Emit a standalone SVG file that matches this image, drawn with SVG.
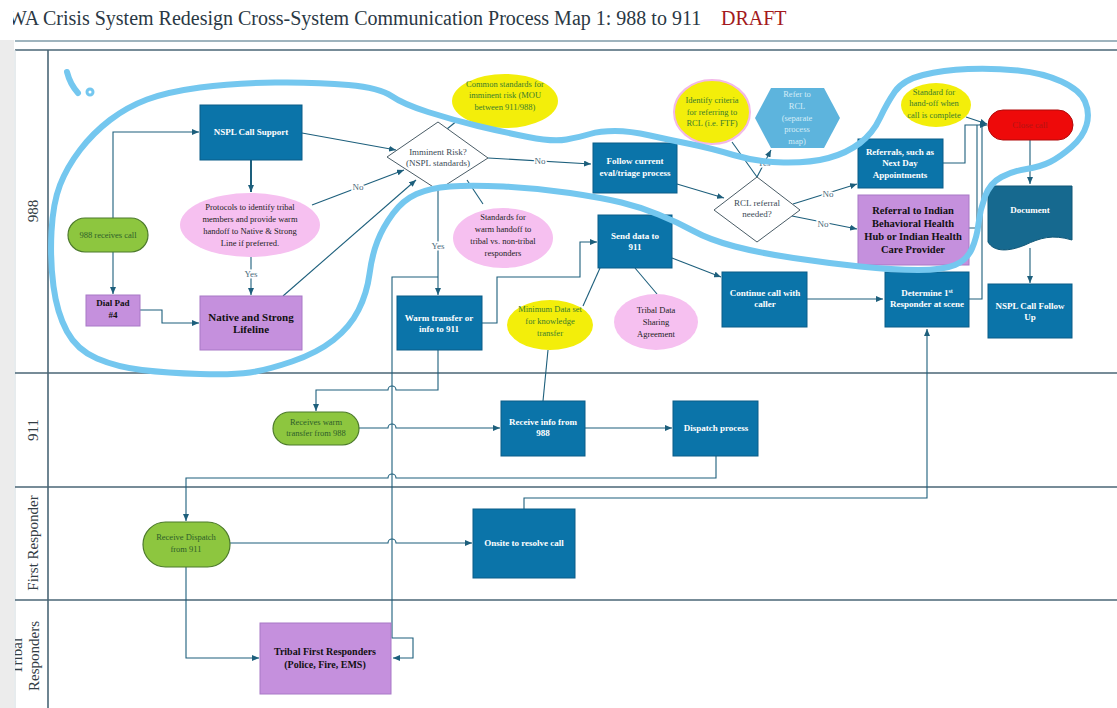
<svg xmlns="http://www.w3.org/2000/svg" width="1117" height="708" viewBox="0 0 1117 708">
<defs>
<marker id="ah" markerWidth="7" markerHeight="6" refX="7" refY="3" orient="auto" markerUnits="userSpaceOnUse"><path d="M0,0 L7,3 L0,6 z" fill="#1d5f7c"/></marker>
<clipPath id="clipL"><rect x="15" y="0" width="1102" height="708"/></clipPath>
<clipPath id="clipT"><rect x="13" y="0" width="1104" height="40"/></clipPath>
</defs>
<style>
text{font-family:"Liberation Serif","Times New Roman",serif;text-anchor:middle}
.proc{fill:#0b74a9;stroke:#0a5d88;stroke-width:1}
.pt{font-weight:bold;font-size:9px;fill:#ffffff}
.purp{fill:#c590dd;stroke:#a878c6;stroke-width:1}
.ut{font-weight:bold;fill:#111111}
.green{fill:#8dc63f;stroke:#4d7a2c;stroke-width:1.2}
.gt{font-size:8.5px;fill:#2e5e2a}
.pink{fill:#f6c0f0}
.kt{font-size:8.5px;fill:#222222}
.yel{fill:#f3ee0a}
.yt{font-size:8.5px;fill:#3a7d2e}
.conn{fill:none;stroke:#1d5f7c;stroke-width:1.1}
.arr{marker-end:url(#ah)}
.lbl{font-size:9px;fill:#4a6a7a;stroke:#ffffff;stroke-width:3px;paint-order:stroke}
.lane{stroke:#4a6676;stroke-width:1.6}
.lanet{font-size:15px;fill:#333d44}
</style>
<rect x="0" y="0" width="1117" height="708" fill="#ffffff"/>
<rect x="0" y="40" width="14" height="668" fill="#ececec"/>
<g id="title" clip-path="url(#clipT)">
<text x="8" y="25" style="text-anchor:start;font-size:20px;fill:#2a3844">WA Crisis System Redesign Cross-System Communication Process Map 1: 988 to 911</text>
<text x="721" y="25" style="text-anchor:start;font-size:20px;fill:#a3191c">DRAFT</text>
</g>
<g id="pool">
<line x1="15" y1="41" x2="1117" y2="41" stroke="#9fb4be" stroke-width="2"/>
<line x1="15" y1="50" x2="1117" y2="50" class="lane"/>
<line x1="15" y1="50" x2="15" y2="708" stroke="#cfd8dc" stroke-width="1"/>
<line x1="48" y1="50" x2="48" y2="708" class="lane"/>
<line x1="15" y1="373" x2="1117" y2="373" class="lane"/>
<line x1="15" y1="487" x2="1117" y2="487" class="lane"/>
<line x1="15" y1="600" x2="1117" y2="600" class="lane"/>
<text class="lanet" transform="translate(38,211) rotate(-90)">988</text>
<text class="lanet" transform="translate(38,430) rotate(-90)">911</text>
<text class="lanet" transform="translate(38,543) rotate(-90)">First Responder</text>
<g clip-path="url(#clipL)">
<text class="lanet" transform="translate(22,656) rotate(-90)">Tribal</text>
</g>
<text class="lanet" transform="translate(39,656) rotate(-90)">Responders</text>
</g>
<g id="connectors">
<path class="conn arr" d="M113,218 V132 H199"/>
<path class="conn arr" d="M113,252 V294"/>
<path class="conn arr" d="M140,310 H162 V323 H199"/>
<path class="conn arr" d="M251,160 V192" style="stroke-width:2"/>
<path class="conn arr" d="M251,257 V295"/>
<path class="conn arr" d="M312,205 L404,170"/>
<path class="conn arr" d="M302,133 L396,150"/>
<path class="conn arr" d="M283,296 L416,180"/>
<path class="conn" d="M447,129 L458,120"/>
<path class="conn arr" d="M488,158 L591,164"/>
<path class="conn" d="M467,180 L483,204"/>
<path class="conn arr" d="M438,190 V295"/>
<path class="conn arr" d="M482,323 H497 V277 H580 V242 H597"/>
<path class="conn arr" d="M438,277 H392 V638 H413 V658 H393"/>
<path class="conn" d="M600,268 L583,306"/>
<path class="conn" d="M548,350 L543,401"/>
<path class="conn" d="M635,268 L657,294"/>
<path class="conn arr" d="M672,258 L721,277"/>
<path class="conn arr" d="M807,299 H883"/>
<path class="conn arr" d="M677,184 L724,198"/>
<path class="conn arr" d="M757,177 L771,150"/>
<path class="conn" d="M732,142 L757,177"/>
<path class="conn arr" d="M793,204 L857,184"/>
<path class="conn arr" d="M792,216 L857,229"/>
<path class="conn arr" d="M943,163 H965 V125 H987"/>
<path class="conn" d="M969,228 H977 V125"/>
<path class="conn" d="M969,299 H982 V125"/>
<path class="conn arr" d="M966,117 L987,124"/>
<path class="conn arr" d="M1030,140 V184"/>
<path class="conn arr" d="M1030,248 V283"/>
<path class="conn arr" d="M438,350 V390 H396 A4,4 0 0 0 388,390 H316 V411"/>
<path class="conn arr" d="M359,428 H388 A4,4 0 0 1 396,428 H500"/>
<path class="conn arr" d="M585,428 H672"/>
<path class="conn arr" d="M716,456 V478 H396 A4,4 0 0 0 388,478 H186 V521"/>
<path class="conn arr" d="M230,543 H388 A4,4 0 0 1 396,543 H472"/>
<path class="conn arr" d="M524,509 V498 H927 V329"/>
<path class="conn arr" d="M186,567 V658 H259"/>
<text class="lbl" x="251" y="277">Yes</text>
<text class="lbl" x="358" y="190">No</text>
<text class="lbl" x="540" y="164">No</text>
<text class="lbl" x="438" y="249">Yes</text>
<text class="lbl" x="764" y="166">Yes</text>
<text class="lbl" x="828" y="197">No</text>
<text class="lbl" x="823" y="227">No</text>
</g>
<g id="n988">
<rect class="green" x="68" y="218" width="80" height="34" rx="17"/>
<text class="gt" x="108" y="238">988 receives call</text>
</g>
<g id="nspl">
<rect class="proc" x="200" y="105" width="102" height="55"/>
<text class="pt" x="251" y="135">NSPL Call Support</text>
</g>
<g id="protocols">
<ellipse class="pink" cx="250" cy="225" rx="70" ry="32"/>
<text class="kt" x="250" y="210">Protocols to identify tribal</text>
<text class="kt" x="250" y="222">members and provide warm</text>
<text class="kt" x="250" y="234">handoff to Native &amp; Strong</text>
<text class="kt" x="250" y="246">Line if preferred.</text>
</g>
<g id="dialpad">
<rect class="purp" x="86" y="295" width="54" height="31"/>
<text class="ut" x="113" y="306" style="font-size:9px">Dial Pad</text>
<text class="ut" x="113" y="318" style="font-size:9px">#4</text>
</g>
<g id="native">
<rect class="purp" x="200" y="296" width="102" height="54"/>
<text class="ut" x="251" y="321" style="font-size:11px">Native and Strong</text>
<text class="ut" x="251" y="333" style="font-size:11px">Lifeline</text>
</g>
<g id="imminent">
<polygon points="387,157 438,122 488,158 438,190" fill="#ffffff" stroke="#4a5c66" stroke-width="1"/>
<text x="438" y="155" style="font-size:9px;fill:#3a4a55">Imminent Risk?</text>
<text x="438" y="166" style="font-size:9px;fill:#3a4a55">(NSPL standards)</text>
</g>
<g id="common">
<ellipse class="yel" cx="505" cy="101" rx="53" ry="27"/>
<text class="yt" x="505" y="87">Common standards for</text>
<text class="yt" x="505" y="98">imminent risk (MOU</text>
<text class="yt" x="505" y="110">between 911/988)</text>
</g>
<g id="follow">
<rect class="proc" x="593" y="143" width="84" height="50"/>
<text class="pt" x="635" y="164">Follow current</text>
<text class="pt" x="635" y="176">eval/triage process</text>
</g>
<g id="standards">
<ellipse class="pink" cx="503" cy="238" rx="50" ry="30"/>
<text class="kt" x="503" y="220">Standards for</text>
<text class="kt" x="503" y="232">warm handoff to</text>
<text class="kt" x="503" y="244">tribal vs. non-tribal</text>
<text class="kt" x="503" y="256">responders</text>
</g>
<g id="warm">
<rect class="proc" x="397" y="296" width="85" height="54"/>
<text class="pt" x="439" y="321">Warm transfer or</text>
<text class="pt" x="439" y="332">info to 911</text>
</g>
<g id="senddata">
<rect class="proc" x="598" y="215" width="74" height="53"/>
<text class="pt" x="635" y="239">Send  data to</text>
<text class="pt" x="635" y="250">911</text>
</g>
<g id="mindata">
<ellipse class="yel" cx="550" cy="325" rx="43" ry="25"/>
<text class="yt" x="550" y="312">Minimum Data set</text>
<text class="yt" x="550" y="324">for knowledge</text>
<text class="yt" x="550" y="336">transfer</text>
</g>
<g id="tribaldata">
<ellipse class="pink" cx="656" cy="322" rx="42" ry="28"/>
<text class="kt" x="656" y="313">Tribal Data</text>
<text class="kt" x="656" y="325">Sharing</text>
<text class="kt" x="656" y="337">Agreement</text>
</g>
<g id="continue">
<rect class="proc" x="722" y="272" width="85" height="55"/>
<text class="pt" x="765" y="296">Continue call with</text>
<text class="pt" x="765" y="307">caller</text>
</g>
<g id="determine">
<rect class="proc" x="885" y="272" width="84" height="55"/>
<text class="pt" x="927" y="296">Determine 1<tspan style="font-size:6px" dy="-3">st</tspan></text>
<text class="pt" x="927" y="307">Responder at scene</text>
</g>
<g id="identify">
<ellipse cx="712" cy="112" rx="38" ry="32" fill="#f3ee0a" stroke="#f2b8e8" stroke-width="2"/>
<text class="yt" x="712" y="103">Identify criteria</text>
<text class="yt" x="712" y="115">for referring to</text>
<text class="yt" x="712" y="126">RCL (i.e. FTF)</text>
</g>
<g id="refer">
<polygon points="755,118 771,88 824,88 840,118 824,148 771,148" fill="#5db4dd"/>
<text x="797" y="97" style="font-size:8.5px;fill:#d4ecf7">Refer to</text>
<text x="797" y="109" style="font-size:8.5px;fill:#d4ecf7">RCL</text>
<text x="797" y="121" style="font-size:8.5px;fill:#d4ecf7">(separate</text>
<text x="797" y="132" style="font-size:8.5px;fill:#d4ecf7">process</text>
<text x="797" y="144" style="font-size:8.5px;fill:#d4ecf7">map)</text>
</g>
<g id="rcl">
<polygon points="714,210 757,177 800,210 757,242" fill="#ffffff" stroke="#4a5c66" stroke-width="1"/>
<text x="757" y="206" style="font-size:9px;fill:#3a4a55">RCL referral</text>
<text x="757" y="217" style="font-size:9px;fill:#3a4a55">needed?</text>
</g>
<g id="referrals">
<rect class="proc" x="858" y="139" width="85" height="49"/>
<text class="pt" x="900" y="155">Referrals, such as</text>
<text class="pt" x="900" y="166">Next Day</text>
<text class="pt" x="900" y="178">Appointments</text>
</g>
<g id="referralindian">
<rect class="purp" x="858" y="195" width="111" height="70"/>
<text class="ut" x="913" y="214" style="font-size:10.5px">Referral to Indian</text>
<text class="ut" x="913" y="227" style="font-size:10.5px">Behavioral Health</text>
<text class="ut" x="913" y="240" style="font-size:10.5px">Hub or Indian Health</text>
<text class="ut" x="913" y="253" style="font-size:10.5px">Care Provider</text>
</g>
<g id="standardhandoff">
<ellipse class="yel" cx="936" cy="105" rx="35" ry="22"/>
<text class="yt" x="934" y="95">Standard for</text>
<text class="yt" x="934" y="106">hand-off when</text>
<text class="yt" x="934" y="118">call is complete</text>
</g>
<g id="closecall">
<rect x="988" y="110" width="85" height="30" rx="15" fill="#ee0a0a" stroke="#b00a0a" stroke-width="1"/>
<text x="1030" y="128" style="font-size:9px;fill:#b41414">Close call</text>
</g>
<g id="document">
<path d="M988,186 H1072 V240 C1052,234 1040,238 1025,245 C1008,252 994,252 988,242 Z" fill="#16698f" stroke="#0f5676" stroke-width="1"/>
<text class="pt" x="1030" y="213">Document</text>
</g>
<g id="followup">
<rect class="proc" x="988" y="284" width="84" height="54"/>
<text class="pt" x="1030" y="309">NSPL Call Follow</text>
<text class="pt" x="1030" y="320">Up</text>
</g>
<g id="receiveswarm">
<rect class="green" x="273" y="412" width="86" height="33" rx="16.5"/>
<text class="gt" x="316" y="425">Receives warm</text>
<text class="gt" x="316" y="436">transfer from 988</text>
</g>
<g id="receiveinfo">
<rect class="proc" x="501" y="401" width="84" height="55"/>
<text class="pt" x="543" y="425">Receive info from</text>
<text class="pt" x="543" y="436">988</text>
</g>
<g id="dispatch">
<rect class="proc" x="673" y="401" width="85" height="55"/>
<text class="pt" x="716" y="431">Dispatch process</text>
</g>
<g id="receivedispatch">
<rect class="green" x="143" y="522" width="87" height="45" rx="22.5"/>
<text class="gt" x="186" y="540">Receive Dispatch</text>
<text class="gt" x="186" y="552">from 911</text>
</g>
<g id="onsite">
<rect class="proc" x="473" y="509" width="102" height="69"/>
<text class="pt" x="524" y="546">Onsite to resolve call</text>
</g>
<g id="tribalfirst">
<rect class="purp" x="260" y="623" width="131" height="71"/>
<text class="ut" x="325" y="655" style="font-size:10px">Tribal First Responders</text>
<text class="ut" x="325" y="668" style="font-size:10px">(Police, Fire, EMS)</text>
</g>
<g id="annotation" fill="none" stroke="#74c7ef" stroke-width="6" stroke-linejoin="round" stroke-linecap="round">
<path d="M348.5,85 Q380,88 391.5,96 Q403,104 428,112 Q453,120 478,126 Q503,132 528,137 Q553,142 566.5,139.5 Q580,137 590,134 Q600,131 615,131 Q630,131 650,135.5 Q670,140 690,144 Q710,148 733.5,155 Q757,162 783.5,162.5 Q810,163 828.5,158 Q847,153 860,143 Q873,133 880,118 Q887,103 895,91.5 Q903,80 923,75 Q943,70 968,69 Q993,68 1018,70.5 Q1043,73 1061.5,81.5 Q1080,90 1085,101.5 Q1090,113 1086.5,125 Q1083,137 1071.5,147 Q1060,157 1050,162 Q1040,167 1026.5,169 Q1013,171 1001.5,177 Q990,183 985,196.5 Q980,210 978.5,223.5 Q977,237 972,248.5 Q967,260 955,265 Q943,270 918,270 Q893,270 860,266.5 Q827,263 793.5,258 Q760,253 735,246.5 Q710,240 693.5,231 Q677,222 658.5,214.5 Q640,207 621.5,202.5 Q603,198 570,193 Q537,188 503.5,186.5 Q470,185 450,186.5 Q430,188 416.5,194 Q403,200 393,213.5 Q383,227 377.5,241 Q372,255 369.5,274 Q367,293 358.5,310 Q350,327 333.5,340 Q317,353 292,361.5 Q267,370 250,372.5 Q233,375 200,374 Q167,373 142,370 Q117,367 97,358.5 Q77,350 67,331.5 Q57,313 53.5,286.5 Q50,260 51.5,231.5 Q53,203 60,185 Q67,167 80,150 Q93,133 110,120 Q127,107 147,99.5 Q167,92 200,87.5 Q233,83 275,82.5 Q317,82 348.5,85 Z"/>
<path d="M67,72 Q70,84 78,93"/>
<circle cx="90" cy="92" r="1.5"/>
</g>
</svg>
